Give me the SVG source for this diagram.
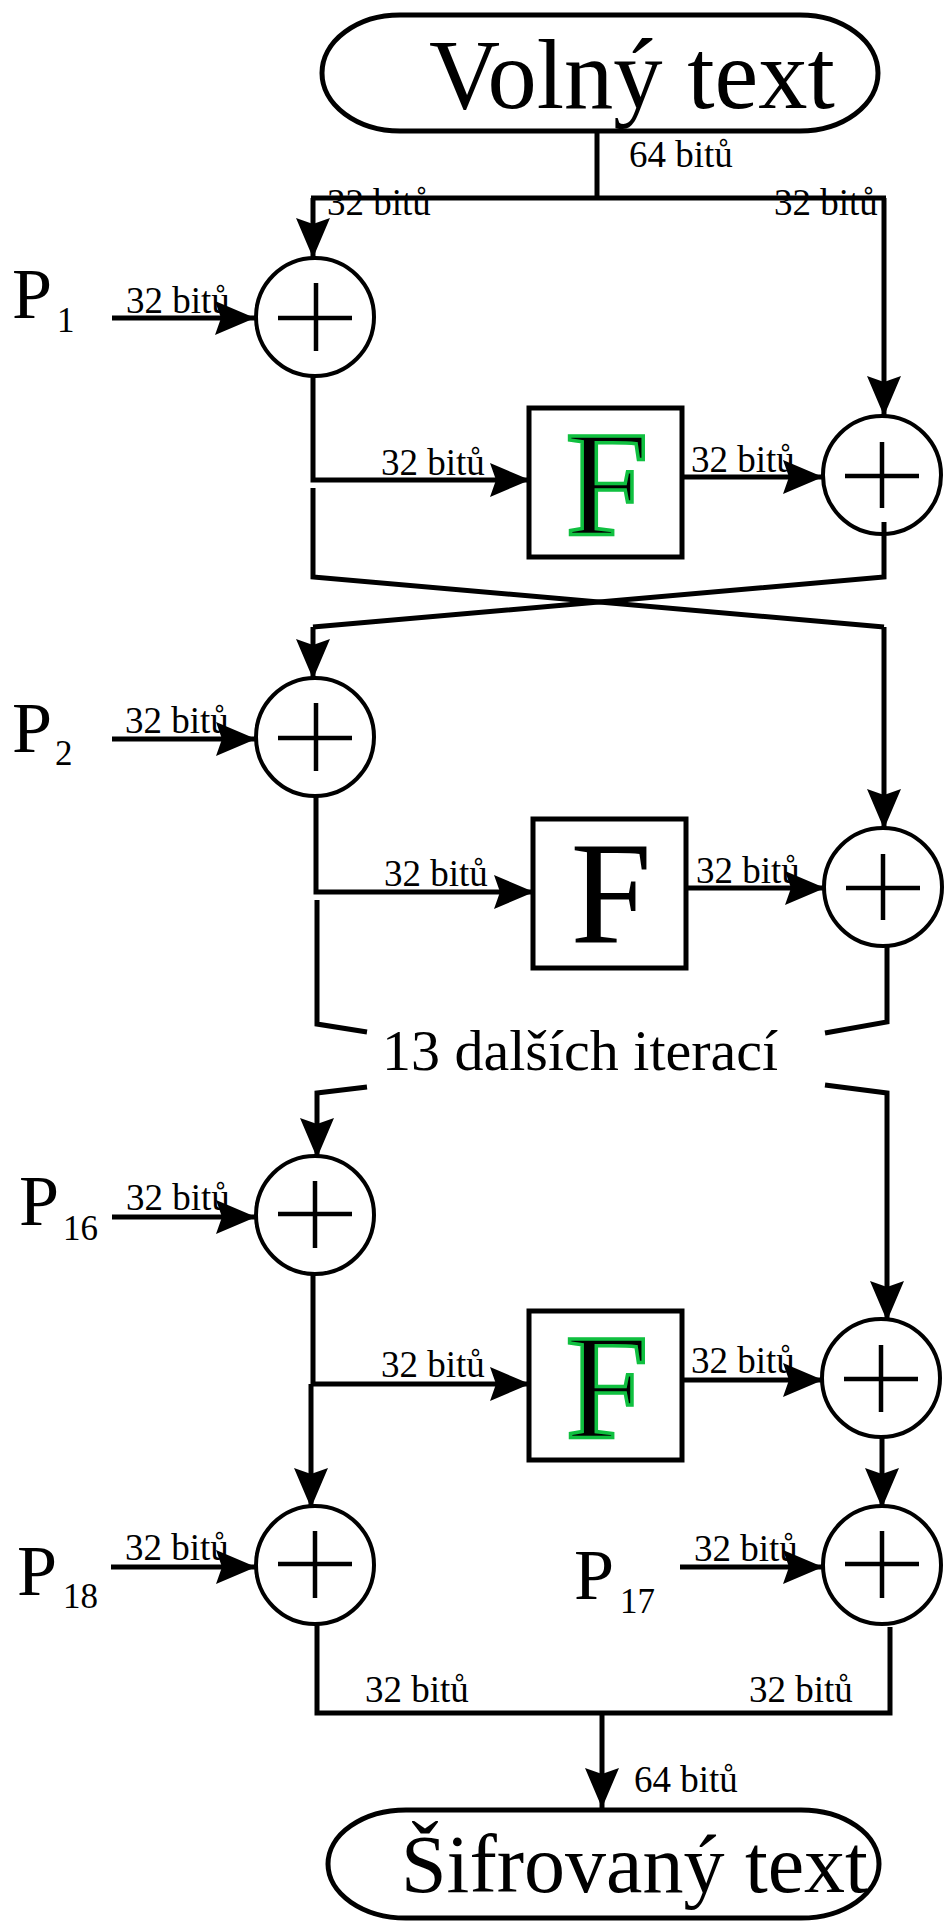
<svg xmlns="http://www.w3.org/2000/svg" width="944" height="1922" viewBox="0 0 944 1922">
<style>
text{font-family:"Liberation Serif","Times New Roman",serif;fill:#000}
.lbl{font-size:37px}
.p{font-size:72px}
.sub{font-size:35px}
.big{font-size:98.5px}
.circ{fill:none;stroke:#000;stroke-width:4}
.plus{stroke:#000;stroke-width:4.5;fill:none}
.box{fill:#fff;stroke:#000;stroke-width:5}
.term{fill:#fff;stroke:#000;stroke-width:5}
.ln{fill:none;stroke:#000;stroke-width:5;stroke-linejoin:miter}
.arr{marker-end:url(#ah)}
.fc{font-size:150px;fill:#000;stroke:#10c040;stroke-width:3.5}
.fb{font-size:146px}
</style>
<defs>
<marker id="ah" markerUnits="userSpaceOnUse" markerWidth="42" markerHeight="36" refX="40" refY="17" orient="auto">
<path d="M0,0 L40,17 L0,34 L6,17 z" fill="#000"/>
</marker>
</defs>

<g id="connectors">
<path class="ln" d="M597,132 V198"/>
<path class="ln" d="M311,198 H886"/>
<path class="ln arr" d="M313,198 V258"/>
<path class="ln arr" d="M884,198 V416"/>
<path class="ln arr" d="M112,318 H255"/>
<path class="ln arr" d="M313,376 V480 H530"/>
<path class="ln" d="M313,488 V577 L884,627"/>
<path class="ln arr" d="M884,627 V829"/>
<path class="ln arr" d="M682,477 H823"/>
<path class="ln" d="M884,522 V577 L313,627"/>
<path class="ln arr" d="M313,627 V679"/>
<path class="ln arr" d="M112,739 H256"/>
<path class="ln arr" d="M316,796 V892 H534"/>
<path class="ln" d="M317,900 V1024 L367,1032"/>
<path class="ln arr" d="M686,888 H825"/>
<path class="ln" d="M887,945 V1022 L825,1033"/>
<path class="ln arr" d="M367,1087 L317,1093 V1158"/>
<path class="ln arr" d="M825,1085 L887,1093 V1321"/>
<path class="ln arr" d="M112,1217 H256"/>
<path class="ln arr" d="M313,1273 V1384 H530"/>
<path class="ln arr" d="M311,1384 V1508"/>
<path class="ln arr" d="M682,1380 H823"/>
<path class="ln arr" d="M882,1436 V1508"/>
<path class="ln arr" d="M111,1567 H256"/>
<path class="ln arr" d="M680,1567 H823"/>
<path class="ln" d="M317,1623 V1713 H890 V1627"/>
<path class="ln arr" d="M602,1713 V1808"/>
</g>

<g id="labels">
<text class="lbl" x="629" y="167">64 bitů</text>
<text class="lbl" x="327" y="215">32 bitů</text>
<text class="lbl" x="774" y="215">32 bitů</text>
<text class="lbl" x="126" y="313">32 bitů</text>
<text class="lbl" x="381" y="475">32 bitů</text>
<text class="lbl" x="691" y="472">32 bitů</text>
<text class="lbl" x="125" y="733">32 bitů</text>
<text class="lbl" x="384" y="886">32 bitů</text>
<text class="lbl" x="696" y="883">32 bitů</text>
<text class="lbl" x="126" y="1210">32 bitů</text>
<text class="lbl" x="381" y="1377">32 bitů</text>
<text class="lbl" x="691" y="1373">32 bitů</text>
<text class="lbl" x="125" y="1560">32 bitů</text>
<text class="lbl" x="694" y="1561">32 bitů</text>
<text class="lbl" x="365" y="1702">32 bitů</text>
<text class="lbl" x="749" y="1702">32 bitů</text>
<text class="lbl" x="634" y="1792">64 bitů</text>
<text x="382" y="1070" style="font-size:58px">13 dalších iterací</text>
</g>

<g id="plaintext">
<rect class="term" x="322" y="15" width="556" height="116" rx="78" ry="58"/>
<text class="big" x="429" y="108">Volný text</text>
</g>

<g id="P1"><text class="p" x="12" y="318">P</text><text class="sub" x="57" y="332">1</text></g>
<g id="P2"><text class="p" x="12" y="752">P</text><text class="sub" x="55" y="765">2</text></g>
<g id="P16"><text class="p" x="19" y="1225">P</text><text class="sub" x="63" y="1240">16</text></g>
<g id="P18"><text class="p" x="17" y="1595">P</text><text class="sub" x="63" y="1608">18</text></g>
<g id="P17"><text class="p" x="574" y="1599">P</text><text class="sub" x="620" y="1613">17</text></g>

<g id="xorL1"><circle class="circ" cx="315" cy="317" r="59"/><path class="plus" d="M278,318 H352 M316,283 V351"/></g>
<g id="xorR1"><circle class="circ" cx="882" cy="475" r="59"/><path class="plus" d="M845,476 H919 M882,442 V508"/></g>
<g id="xorL2"><circle class="circ" cx="315" cy="737" r="59"/><path class="plus" d="M278,738 H352 M316,703 V771"/></g>
<g id="xorR2"><circle class="circ" cx="883" cy="887" r="59"/><path class="plus" d="M846,888 H920 M883,854 V920"/></g>
<g id="xorL16"><circle class="circ" cx="315" cy="1215" r="59"/><path class="plus" d="M278,1214 H352 M315,1181 V1248"/></g>
<g id="xorR16"><circle class="circ" cx="881" cy="1378" r="59"/><path class="plus" d="M844,1379 H918 M881,1345 V1412"/></g>
<g id="xorL18"><circle class="circ" cx="315" cy="1565" r="59"/><path class="plus" d="M278,1564 H352 M315,1531 V1598"/></g>
<g id="xorR17"><circle class="circ" cx="882" cy="1565" r="59"/><path class="plus" d="M845,1564 H919 M882,1531 V1598"/></g>

<g id="F1"><rect class="box" x="529" y="408" width="153" height="149"/><text class="fc" x="607" y="534" text-anchor="middle">F</text></g>
<g id="F2"><rect class="box" x="533" y="819" width="153" height="149"/><text class="fb" x="611" y="942" text-anchor="middle">F</text></g>
<g id="F3"><rect class="box" x="529" y="1311" width="153" height="149"/><text class="fc" x="607" y="1437" text-anchor="middle">F</text></g>

<g id="ciphertext">
<rect class="term" x="328" y="1810" width="551" height="108" rx="78" ry="54"/>
<text x="401" y="1892" style="font-size:82px">Šifrovaný text</text>
</g>
</svg>
